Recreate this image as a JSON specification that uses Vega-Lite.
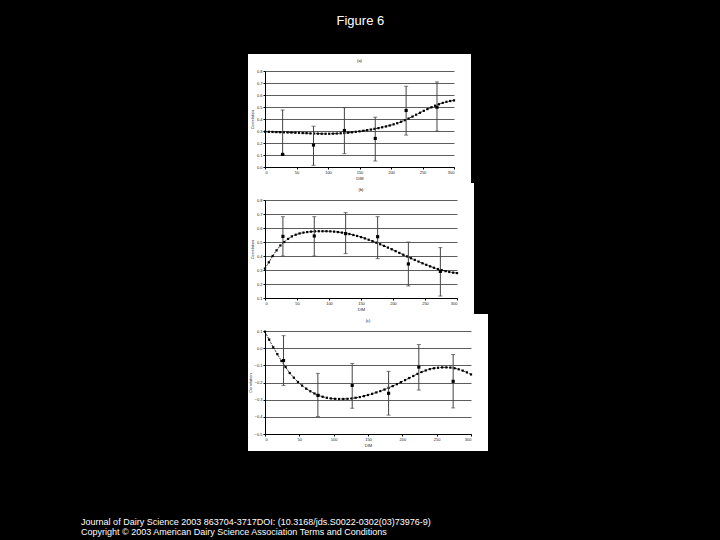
{
  "$schema": "https://vega.github.io/schema/vega-lite/v6.json",
  "background": "black",
  "padding": {"left": 81, "top": 15, "right": 260, "bottom": 20},
  "datasets": {
    "curves": [
      {"panel":"a","dim":0,"value":0.294},{"panel":"a","dim":6,"value":0.293},{"panel":"a","dim":12,"value":0.292},{"panel":"a","dim":18,"value":0.291},{"panel":"a","dim":24,"value":0.290},{"panel":"a","dim":30,"value":0.289},{"panel":"a","dim":36,"value":0.288},{"panel":"a","dim":42,"value":0.287},{"panel":"a","dim":48,"value":0.286},{"panel":"a","dim":54,"value":0.285},{"panel":"a","dim":60,"value":0.283},{"panel":"a","dim":66,"value":0.282},{"panel":"a","dim":72,"value":0.280},{"panel":"a","dim":78,"value":0.279},{"panel":"a","dim":84,"value":0.278},{"panel":"a","dim":90,"value":0.277},{"panel":"a","dim":96,"value":0.277},{"panel":"a","dim":102,"value":0.277},{"panel":"a","dim":108,"value":0.278},{"panel":"a","dim":114,"value":0.279},{"panel":"a","dim":120,"value":0.281},{"panel":"a","dim":126,"value":0.283},{"panel":"a","dim":132,"value":0.286},{"panel":"a","dim":138,"value":0.289},{"panel":"a","dim":144,"value":0.293},{"panel":"a","dim":150,"value":0.297},{"panel":"a","dim":156,"value":0.302},{"panel":"a","dim":162,"value":0.307},{"panel":"a","dim":168,"value":0.312},{"panel":"a","dim":174,"value":0.318},{"panel":"a","dim":180,"value":0.324},{"panel":"a","dim":186,"value":0.331},{"panel":"a","dim":192,"value":0.338},{"panel":"a","dim":198,"value":0.346},{"panel":"a","dim":204,"value":0.355},{"panel":"a","dim":210,"value":0.365},{"panel":"a","dim":216,"value":0.377},{"panel":"a","dim":222,"value":0.390},{"panel":"a","dim":228,"value":0.404},{"panel":"a","dim":234,"value":0.420},{"panel":"a","dim":240,"value":0.436},{"panel":"a","dim":246,"value":0.452},{"panel":"a","dim":252,"value":0.468},{"panel":"a","dim":258,"value":0.483},{"panel":"a","dim":264,"value":0.497},{"panel":"a","dim":270,"value":0.511},{"panel":"a","dim":276,"value":0.523},{"panel":"a","dim":282,"value":0.534},{"panel":"a","dim":288,"value":0.543},{"panel":"a","dim":294,"value":0.550},{"panel":"a","dim":300,"value":0.555},
      {"panel":"b","dim":0,"value":0.31},{"panel":"b","dim":6,"value":0.355},{"panel":"b","dim":12,"value":0.40},{"panel":"b","dim":18,"value":0.44},{"panel":"b","dim":24,"value":0.475},{"panel":"b","dim":30,"value":0.50},{"panel":"b","dim":36,"value":0.522},{"panel":"b","dim":42,"value":0.54},{"panel":"b","dim":48,"value":0.552},{"panel":"b","dim":54,"value":0.561},{"panel":"b","dim":60,"value":0.567},{"panel":"b","dim":66,"value":0.571},{"panel":"b","dim":72,"value":0.574},{"panel":"b","dim":78,"value":0.576},{"panel":"b","dim":84,"value":0.577},{"panel":"b","dim":90,"value":0.577},{"panel":"b","dim":96,"value":0.577},{"panel":"b","dim":102,"value":0.576},{"panel":"b","dim":108,"value":0.574},{"panel":"b","dim":114,"value":0.571},{"panel":"b","dim":120,"value":0.567},{"panel":"b","dim":126,"value":0.563},{"panel":"b","dim":132,"value":0.557},{"panel":"b","dim":138,"value":0.55},{"panel":"b","dim":144,"value":0.543},{"panel":"b","dim":150,"value":0.535},{"panel":"b","dim":156,"value":0.526},{"panel":"b","dim":162,"value":0.516},{"panel":"b","dim":168,"value":0.506},{"panel":"b","dim":174,"value":0.495},{"panel":"b","dim":180,"value":0.484},{"panel":"b","dim":186,"value":0.472},{"panel":"b","dim":192,"value":0.46},{"panel":"b","dim":198,"value":0.448},{"panel":"b","dim":204,"value":0.435},{"panel":"b","dim":210,"value":0.422},{"panel":"b","dim":216,"value":0.409},{"panel":"b","dim":222,"value":0.397},{"panel":"b","dim":228,"value":0.384},{"panel":"b","dim":234,"value":0.372},{"panel":"b","dim":240,"value":0.36},{"panel":"b","dim":246,"value":0.348},{"panel":"b","dim":252,"value":0.337},{"panel":"b","dim":258,"value":0.326},{"panel":"b","dim":264,"value":0.316},{"panel":"b","dim":270,"value":0.307},{"panel":"b","dim":276,"value":0.299},{"panel":"b","dim":282,"value":0.292},{"panel":"b","dim":288,"value":0.286},{"panel":"b","dim":294,"value":0.281},{"panel":"b","dim":300,"value":0.278},
      {"panel":"c","dim":0,"value":0.096},{"panel":"c","dim":6,"value":0.05},{"panel":"c","dim":12,"value":0.005},{"panel":"c","dim":18,"value":-0.035},{"panel":"c","dim":24,"value":-0.075},{"panel":"c","dim":30,"value":-0.11},{"panel":"c","dim":36,"value":-0.145},{"panel":"c","dim":42,"value":-0.172},{"panel":"c","dim":48,"value":-0.197},{"panel":"c","dim":54,"value":-0.218},{"panel":"c","dim":60,"value":-0.236},{"panel":"c","dim":66,"value":-0.251},{"panel":"c","dim":72,"value":-0.264},{"panel":"c","dim":78,"value":-0.275},{"panel":"c","dim":84,"value":-0.283},{"panel":"c","dim":90,"value":-0.289},{"panel":"c","dim":96,"value":-0.293},{"panel":"c","dim":102,"value":-0.295},{"panel":"c","dim":108,"value":-0.296},{"panel":"c","dim":114,"value":-0.296},{"panel":"c","dim":120,"value":-0.295},{"panel":"c","dim":126,"value":-0.293},{"panel":"c","dim":132,"value":-0.289},{"panel":"c","dim":138,"value":-0.285},{"panel":"c","dim":144,"value":-0.279},{"panel":"c","dim":150,"value":-0.273},{"panel":"c","dim":156,"value":-0.266},{"panel":"c","dim":162,"value":-0.258},{"panel":"c","dim":168,"value":-0.25},{"panel":"c","dim":174,"value":-0.241},{"panel":"c","dim":180,"value":-0.231},{"panel":"c","dim":186,"value":-0.221},{"panel":"c","dim":192,"value":-0.21},{"panel":"c","dim":198,"value":-0.198},{"panel":"c","dim":204,"value":-0.186},{"panel":"c","dim":210,"value":-0.174},{"panel":"c","dim":216,"value":-0.162},{"panel":"c","dim":222,"value":-0.15},{"panel":"c","dim":228,"value":-0.139},{"panel":"c","dim":234,"value":-0.13},{"panel":"c","dim":240,"value":-0.122},{"panel":"c","dim":246,"value":-0.117},{"panel":"c","dim":252,"value":-0.114},{"panel":"c","dim":258,"value":-0.112},{"panel":"c","dim":264,"value":-0.112},{"panel":"c","dim":270,"value":-0.113},{"panel":"c","dim":276,"value":-0.117},{"panel":"c","dim":282,"value":-0.123},{"panel":"c","dim":288,"value":-0.131},{"panel":"c","dim":294,"value":-0.141},{"panel":"c","dim":300,"value":-0.153}
    ],
    "bars": [
      {"panel":"a","dim":28,"mean":0.105,"lo":0.105,"hi":0.475},
      {"panel":"a","dim":77,"mean":0.183,"lo":0.014,"hi":0.340},
      {"panel":"a","dim":126,"mean":0.304,"lo":0.111,"hi":0.495},
      {"panel":"a","dim":175,"mean":0.238,"lo":0.050,"hi":0.415},
      {"panel":"a","dim":224,"mean":0.471,"lo":0.266,"hi":0.673},
      {"panel":"a","dim":273,"mean":0.498,"lo":0.299,"hi":0.709},
      {"panel":"b","dim":28,"mean":0.54,"lo":0.40,"hi":0.681},
      {"panel":"b","dim":77,"mean":0.543,"lo":0.40,"hi":0.681},
      {"panel":"b","dim":126,"mean":0.56,"lo":0.417,"hi":0.71},
      {"panel":"b","dim":176,"mean":0.538,"lo":0.381,"hi":0.681},
      {"panel":"b","dim":224,"mean":0.343,"lo":0.186,"hi":0.50},
      {"panel":"b","dim":274,"mean":0.29,"lo":0.114,"hi":0.46},
      {"panel":"c","dim":27,"mean":-0.072,"lo":-0.217,"hi":0.073},
      {"panel":"c","dim":77,"mean":-0.275,"lo":-0.398,"hi":-0.147},
      {"panel":"c","dim":127,"mean":-0.217,"lo":-0.35,"hi":-0.089},
      {"panel":"c","dim":180,"mean":-0.263,"lo":-0.39,"hi":-0.135},
      {"panel":"c","dim":224,"mean":-0.11,"lo":-0.244,"hi":0.021},
      {"panel":"c","dim":274,"mean":-0.193,"lo":-0.348,"hi":-0.037}
    ]
  },
  "title": {
    "text": ["Journal of Dairy Science 2003 863704-3717DOI: (10.3168/jds.S0022-0302(03)73976-9)", "Copyright © 2003 American Dairy Science Association Terms and Conditions"],
    "orient": "bottom", "anchor": "start", "frame": "bounds", "dx": -150, "offset": 54,
    "color": "white", "fontSize": 9, "fontWeight": "normal", "font": "Liberation Sans", "lineHeight": 10
  },
  "vconcat": [
    {
      "title": {"text": "Figure 6", "color": "white", "fontSize": 13, "fontWeight": "normal", "font": "Liberation Sans", "offset": 14, "anchor": "middle"},
      "spacing": -26,
      "vconcat": [
        {
          "width": 189, "height": 96,
          "title": {"text": "(a)", "fontSize": 4, "color": "black", "offset": 6, "fontWeight": "normal"},
          "view": {"fill": "white", "stroke": "white", "strokeWidth": 34},
          "encoding": {
            "x": {"field": "dim", "type": "quantitative", "scale": {"domain": [0, 300]}, "axis": {"values": [0,50,100,150,200,250,300], "title": "DIM", "grid": false}}
          },
          "layer": [
            {"data": {"name": "curves"}, "transform": [{"filter": "datum.panel === 'a'"}],
             "mark": {"type": "line", "color": "black", "strokeWidth": 0.8, "strokeDash": [2, 1], "point": {"shape": "square", "size": 5, "filled": true, "color": "black"}},
             "encoding": {
               "y": {"field": "value", "type": "quantitative", "scale": {"domain": [0, 0.8]}, "axis": {"values": [0,0.1,0.2,0.3,0.4,0.5,0.6,0.7,0.8], "format": ".1f", "title": "Correlation", "labelOverlap": false}}
             }},
            {"data": {"name": "bars"}, "transform": [{"filter": "datum.panel === 'a'"}],
             "mark": {"type": "errorbar", "ticks": {"size": 4}, "color": "#444"},
             "encoding": {"y": {"field": "lo", "type": "quantitative", "scale": {"domain": [0, 0.8]}, "axis": {"values": [0,0.1,0.2,0.3,0.4,0.5,0.6,0.7,0.8], "format": ".1f", "title": "Correlation", "labelOverlap": false}}, "y2": {"field": "hi"}}},
            {"data": {"name": "bars"}, "transform": [{"filter": "datum.panel === 'a'"}],
             "mark": {"type": "point", "shape": "square", "filled": true, "size": 10, "color": "black", "opacity": 1},
             "encoding": {"y": {"field": "mean", "type": "quantitative", "scale": {"domain": [0, 0.8]}, "axis": {"values": [0,0.1,0.2,0.3,0.4,0.5,0.6,0.7,0.8], "format": ".1f", "title": "Correlation", "labelOverlap": false}}}}
          ]
        },
        {
          "width": 192, "height": 98,
          "title": {"text": "(b)", "fontSize": 4, "color": "black", "offset": 6, "fontWeight": "normal"},
          "view": {"fill": "white", "stroke": "white", "strokeWidth": 34},
          "encoding": {
            "x": {"field": "dim", "type": "quantitative", "scale": {"domain": [0, 300]}, "axis": {"values": [0,50,100,150,200,250,300], "title": "DIM", "grid": false}}
          },
          "layer": [
            {"data": {"name": "curves"}, "transform": [{"filter": "datum.panel === 'b'"}],
             "mark": {"type": "line", "color": "black", "strokeWidth": 0.8, "strokeDash": [2, 1], "point": {"shape": "square", "size": 5, "filled": true, "color": "black"}},
             "encoding": {
               "y": {"field": "value", "type": "quantitative", "scale": {"domain": [0.1, 0.8]}, "axis": {"values": [0.1,0.2,0.3,0.4,0.5,0.6,0.7,0.8], "format": ".1f", "title": "Correlation", "labelOverlap": false}}
             }},
            {"data": {"name": "bars"}, "transform": [{"filter": "datum.panel === 'b'"}],
             "mark": {"type": "errorbar", "ticks": {"size": 4}, "color": "#444"},
             "encoding": {"y": {"field": "lo", "type": "quantitative", "scale": {"domain": [0.1, 0.8]}, "axis": {"values": [0.1,0.2,0.3,0.4,0.5,0.6,0.7,0.8], "format": ".1f", "title": "Correlation", "labelOverlap": false}}, "y2": {"field": "hi"}}},
            {"data": {"name": "bars"}, "transform": [{"filter": "datum.panel === 'b'"}],
             "mark": {"type": "point", "shape": "square", "filled": true, "size": 10, "color": "black", "opacity": 1},
             "encoding": {"y": {"field": "mean", "type": "quantitative", "scale": {"domain": [0.1, 0.8]}, "axis": {"values": [0.1,0.2,0.3,0.4,0.5,0.6,0.7,0.8], "format": ".1f", "title": "Correlation", "labelOverlap": false}}}}
          ]
        },
        {
          "width": 206, "height": 103,
          "title": {"text": "(c)", "fontSize": 4, "color": "black", "offset": 6, "fontWeight": "normal"},
          "view": {"fill": "white", "stroke": "white", "strokeWidth": 34},
          "encoding": {
            "x": {"field": "dim", "type": "quantitative", "scale": {"domain": [0, 300]}, "axis": {"values": [0,50,100,150,200,250,300], "title": "DIM", "grid": false}}
          },
          "layer": [
            {"data": {"name": "curves"}, "transform": [{"filter": "datum.panel === 'c'"}],
             "mark": {"type": "line", "color": "black", "strokeWidth": 0.8, "strokeDash": [2, 1], "point": {"shape": "square", "size": 5, "filled": true, "color": "black"}},
             "encoding": {
               "y": {"field": "value", "type": "quantitative", "scale": {"domain": [-0.5, 0.1]}, "axis": {"values": [-0.5,-0.4,-0.3,-0.2,-0.1,0,0.1], "format": ".1f", "title": "Correlation", "labelOverlap": false}}
             }},
            {"data": {"name": "bars"}, "transform": [{"filter": "datum.panel === 'c'"}],
             "mark": {"type": "errorbar", "ticks": {"size": 4}, "color": "#444"},
             "encoding": {"y": {"field": "lo", "type": "quantitative", "scale": {"domain": [-0.5, 0.1]}, "axis": {"values": [-0.5,-0.4,-0.3,-0.2,-0.1,0,0.1], "format": ".1f", "title": "Correlation", "labelOverlap": false}}, "y2": {"field": "hi"}}},
            {"data": {"name": "bars"}, "transform": [{"filter": "datum.panel === 'c'"}],
             "mark": {"type": "point", "shape": "square", "filled": true, "size": 10, "color": "black", "opacity": 1},
             "encoding": {"y": {"field": "mean", "type": "quantitative", "scale": {"domain": [-0.5, 0.1]}, "axis": {"values": [-0.5,-0.4,-0.3,-0.2,-0.1,0,0.1], "format": ".1f", "title": "Correlation", "labelOverlap": false}}}}
          ]
        }
      ]
    }
  ],
  "config": {
    "font": "Liberation Sans",
    "axis": {
      "labelFontSize": 4, "titleFontSize": 4, "labelColor": "#222", "titleColor": "#222",
      "domainColor": "black", "tickColor": "black", "gridColor": "#333", "gridWidth": 0.8,
      "tickSize": 2, "labelPadding": 1, "titlePadding": 2, "titleFontWeight": "normal",
      "labelFont": "Liberation Sans", "titleFont": "Liberation Sans"
    }
  }
}
